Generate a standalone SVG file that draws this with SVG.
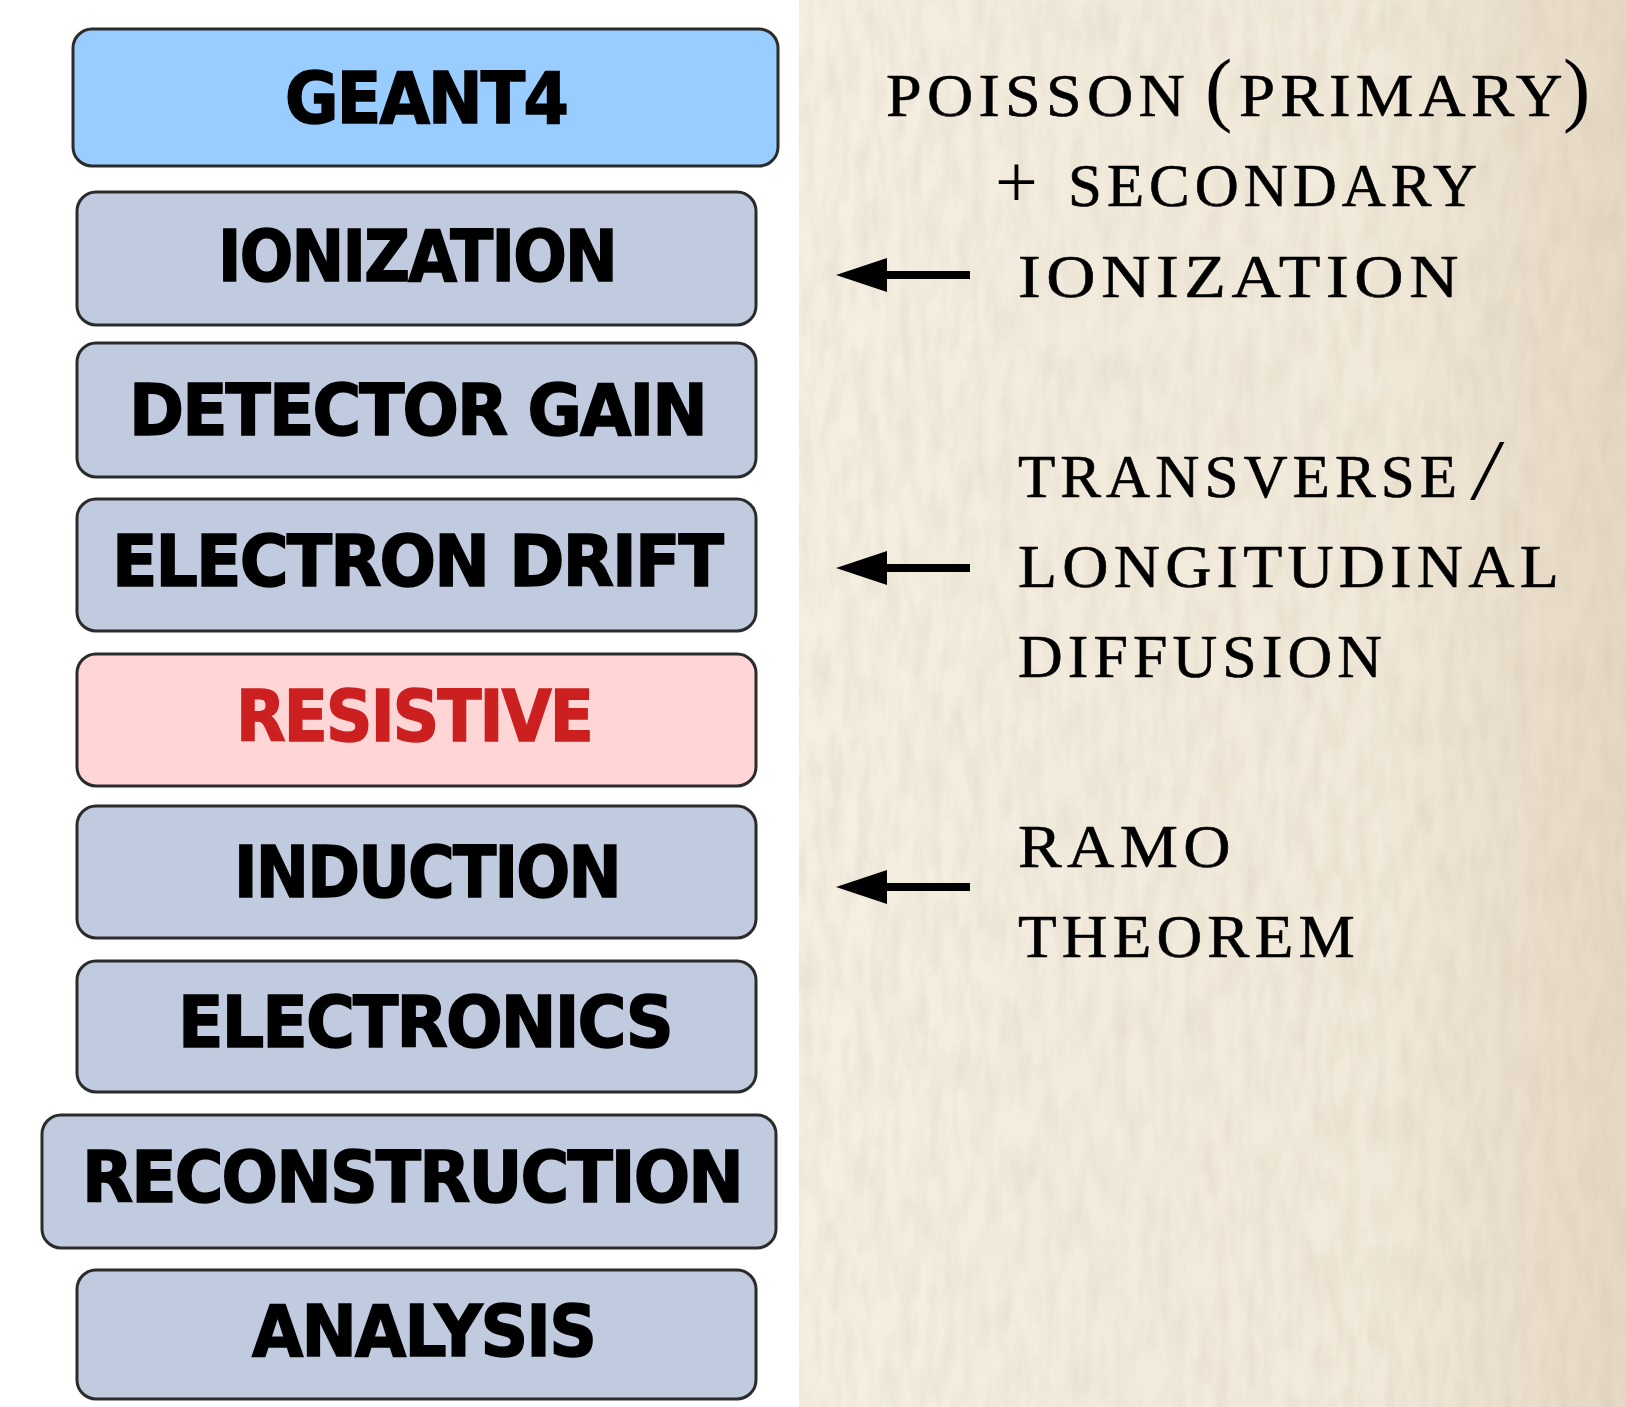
<svg xmlns="http://www.w3.org/2000/svg" width="1626" height="1407" viewBox="0 0 1626 1407">
<style>
.box{stroke:#2b2b2b;stroke-width:3}
.std{fill:#c0cbe0}
.lbl{font-family:"DejaVu Sans",Verdana,sans-serif;font-weight:bold;font-size:71px;fill:#000;stroke:#000;stroke-width:1.6;letter-spacing:-2px}
.note{font-family:"Liberation Serif","Times New Roman",serif;font-size:61px;fill:#000;stroke:#000;stroke-width:0.6;letter-spacing:5px}
.par{font-family:"Liberation Serif","Times New Roman",serif;font-size:82px;fill:#000}
.arr{stroke:#000;stroke-width:8;fill:none}
</style>
<defs>
<linearGradient id="parch" x1="0" y1="0" x2="1" y2="0">
<stop offset="0" stop-color="#f5efe2"/>
<stop offset="0.7" stop-color="#f1e9d9"/>
<stop offset="1" stop-color="#e6d8c3"/>
</linearGradient>
<filter id="grain" x="0" y="0" width="100%" height="100%">
<feTurbulence type="fractalNoise" baseFrequency="0.07 0.02" numOctaves="3" seed="4"/>
<feColorMatrix type="matrix" values="0 0 0 0 0.55  0 0 0 0 0.47  0 0 0 0 0.36  0.4 0 0 0 -0.14"/>
</filter>
<marker id="head" markerUnits="userSpaceOnUse" markerWidth="52" markerHeight="36" refX="0" refY="18" orient="auto" viewBox="0 0 52 36">
<path d="M0,1 L51,18 L0,35 z" fill="#000"/>
</marker>
</defs>
<rect x="0" y="0" width="1626" height="1407" fill="#ffffff"/>
<rect x="799" y="0" width="827" height="1407" fill="url(#parch)"/>
<rect x="799" y="0" width="827" height="1407" filter="url(#grain)"/>

<g id="geant4">
<rect class="box" x="73" y="29" width="705" height="137" rx="19" fill="#99ccff"/>
<text class="lbl" x="285" y="123" textLength="282" lengthAdjust="spacingAndGlyphs">GEANT4</text>
</g>
<g id="ionization">
<rect class="box std" x="77" y="192" width="679" height="133" rx="19"/>
<text class="lbl" x="218" y="281" textLength="398" lengthAdjust="spacingAndGlyphs">IONIZATION</text>
</g>
<g id="detector-gain">
<rect class="box std" x="77" y="343" width="679" height="134" rx="19"/>
<text class="lbl" x="129" y="435" textLength="577" lengthAdjust="spacingAndGlyphs">DETECTOR GAIN</text>
</g>
<g id="electron-drift">
<rect class="box std" x="77" y="499" width="679" height="132" rx="19"/>
<text class="lbl" x="112" y="586" textLength="610" lengthAdjust="spacingAndGlyphs">ELECTRON DRIFT</text>
</g>
<g id="resistive">
<rect class="box" x="77" y="654" width="679" height="132" rx="19" fill="#ffd5d5"/>
<text class="lbl" x="236" y="741" textLength="356" lengthAdjust="spacingAndGlyphs" style="fill:#cc2020;stroke:#cc2020">RESISTIVE</text>
</g>
<g id="induction">
<rect class="box std" x="77" y="806" width="679" height="132" rx="19"/>
<text class="lbl" x="234" y="897" textLength="386" lengthAdjust="spacingAndGlyphs">INDUCTION</text>
</g>
<g id="electronics">
<rect class="box std" x="77" y="961" width="679" height="131" rx="19"/>
<text class="lbl" x="178" y="1047" textLength="494" lengthAdjust="spacingAndGlyphs">ELECTRONICS</text>
</g>
<g id="reconstruction">
<rect class="box std" x="42" y="1115" width="734" height="133" rx="19"/>
<text class="lbl" x="82" y="1202" textLength="660" lengthAdjust="spacingAndGlyphs">RECONSTRUCTION</text>
</g>
<g id="analysis">
<rect class="box std" x="77" y="1270" width="679" height="129" rx="19"/>
<text class="lbl" x="252" y="1356" textLength="343" lengthAdjust="spacingAndGlyphs">ANALYSIS</text>
</g>

<g id="connectors">
<path class="arr" d="M970,275 L887,275" marker-end="url(#head)"/>
<path class="arr" d="M970,568 L887,568" marker-end="url(#head)"/>
<path class="arr" d="M970,887 L887,887" marker-end="url(#head)"/>
</g>

<g id="notes">
<text class="note" x="886" y="116" textLength="304" lengthAdjust="spacingAndGlyphs">POISSON</text>
<text class="par" x="1205" y="116">(</text>
<text class="note" x="1239" y="116" textLength="329" lengthAdjust="spacingAndGlyphs">PRIMARY</text>
<text class="par" x="1563" y="116">)</text>
<text class="par" x="995" y="207" style="font-size:76px">+</text>
<text class="note" x="1068" y="206" textLength="414" lengthAdjust="spacingAndGlyphs">SECONDARY</text>
<text class="note" x="1018" y="297" textLength="446" lengthAdjust="spacingAndGlyphs">IONIZATION</text>
<text class="note" x="1018" y="497" textLength="444" lengthAdjust="spacingAndGlyphs">TRANSVERSE</text>
<text class="par" x="1474" y="499" style="font-size:86px;font-style:italic">/</text>
<text class="note" x="1018" y="587" textLength="546" lengthAdjust="spacingAndGlyphs">LONGITUDINAL</text>
<text class="note" x="1018" y="677" textLength="369" lengthAdjust="spacingAndGlyphs">DIFFUSION</text>
<text class="note" x="1018" y="867" textLength="218" lengthAdjust="spacingAndGlyphs">RAMO</text>
<text class="note" x="1018" y="957" textLength="342" lengthAdjust="spacingAndGlyphs">THEOREM</text>
</g>
</svg>
